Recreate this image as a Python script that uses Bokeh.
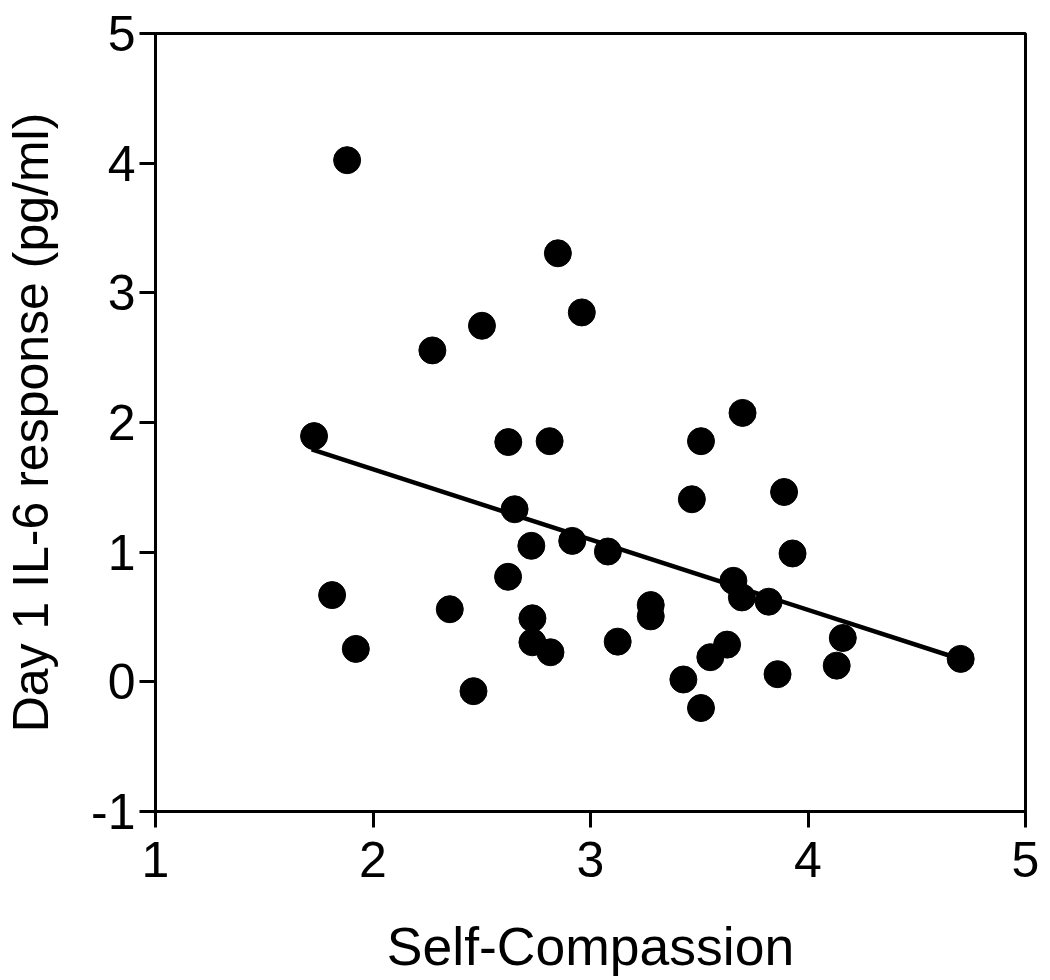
from bokeh.plotting import figure
from bokeh.models import Range1d, FixedTicker
from bokeh.embed import file_html
from bokeh.resources import INLINE

# Data
self_compassion = [1.729, 1.881, 1.812, 1.921, 2.273, 2.353, 2.462, 2.501, 2.621, 2.622,
                   2.651, 2.728, 2.733, 2.733, 2.812, 2.816, 2.850, 2.916, 2.960, 3.080,
                   3.125, 3.277, 3.277, 3.427, 3.466, 3.508, 3.508, 3.551, 3.628, 3.657,
                   3.696, 3.699, 3.819, 3.860, 3.890, 3.929, 4.132, 4.160, 4.702]
il6_response = [1.895, 4.023, 0.669, 0.254, 2.556, 0.560, -0.072, 2.746, 0.810, 1.849,
                1.331, 1.049, 0.490, 0.305, 1.856, 0.228, 3.305, 1.087, 2.849, 1.005,
                0.310, 0.592, 0.505, 0.018, 1.408, 1.856, -0.202, 0.190, 0.287, 0.779,
                0.651, 2.074, 0.618, 0.059, 1.464, 0.990, 0.125, 0.338, 0.177]

fit_x = [1.718, 4.688]
fit_y = [1.792, 0.182]

x_ticks = [1, 2, 3, 4, 5]
y_ticks = [-1, 0, 1, 2, 3, 4, 5]
y_tick_labels = ["-1", "0", "1", "2", "3", "4", "5"]

FONT = "Liberation Sans"

p = figure(width=1045, height=978, output_backend="svg", toolbar_location=None,
           x_range=Range1d(1, 5), y_range=Range1d(-1, 5),
           min_border_left=155, min_border_top=33, min_border_right=20, min_border_bottom=165)

p.grid.visible = False
p.outline_line_color = "black"
p.outline_line_width = 3
p.background_fill_color = "white"
p.border_fill_color = "white"

p.xaxis.ticker = FixedTicker(ticks=x_ticks)
p.yaxis.ticker = FixedTicker(ticks=y_ticks)
p.yaxis.major_label_overrides = {t: s for t, s in zip(y_ticks, y_tick_labels)}

for ax in (p.xaxis[0], p.yaxis[0]):
    ax.axis_line_width = 3
    ax.axis_line_color = "black"
    ax.major_tick_line_width = 3
    ax.major_tick_line_color = "black"
    ax.major_tick_out = 16
    ax.major_tick_in = 0
    ax.minor_tick_out = 0
    ax.minor_tick_in = 0
    ax.major_label_text_font = FONT
    ax.major_label_text_font_size = "50px"
    ax.major_label_text_color = "black"
    ax.axis_label_text_font = FONT
    ax.axis_label_text_font_style = "normal"
    ax.axis_label_text_color = "black"

p.xaxis.axis_label = "Self-Compassion"
p.yaxis.axis_label = "Day 1 IL-6 response (pg/ml)"
p.xaxis.axis_label_text_font_size = "53.5px"
p.yaxis.axis_label_text_font_size = "50px"
p.xaxis.major_label_standoff = 14
p.yaxis.major_label_standoff = 4
p.xaxis.axis_label_standoff = 37
p.yaxis.axis_label_standoff = 29

p.line(fit_x, fit_y, line_color="black", line_width=4.5)
p.scatter(self_compassion, il6_response, size=27, fill_color="black", line_color="black")

open("out.html", "w").write(file_html(p, INLINE))
